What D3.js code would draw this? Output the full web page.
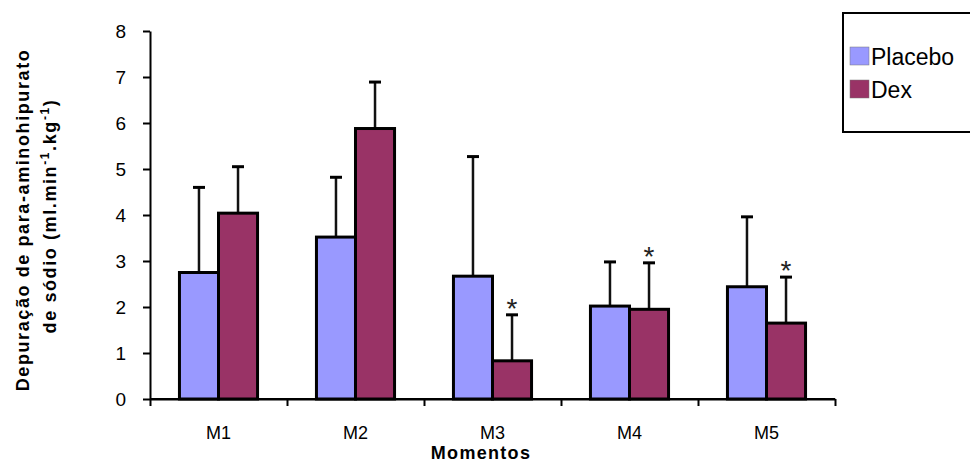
<!DOCTYPE html>
<html>
<head>
<meta charset="utf-8">
<title>Depuração de para-aminohipurato de sódio</title>
<script src="https://cdnjs.cloudflare.com/ajax/libs/d3/7.8.5/d3.min.js"></script>
<style>
body { margin: 0; background: #fff; }
svg { display: block; font-family: "Liberation Sans", Arial, sans-serif; }
.axis path, .axis line { stroke: #000; stroke-width: 2px; }
.axis text { fill: #000; }
</style>
</head>
<body>
<script>
// values
var momentos = ["M1", "M2", "M3", "M4", "M5"];
var grupos = ["Placebo", "Dex"];
var placebo = [2.75, 3.52, 2.67, 2.02, 2.44];
var placeboSd = [1.85, 1.30, 2.60, 0.96, 1.52];
var dex = [4.04, 5.88, 0.83, 1.95, 1.65];
var dexSd = [1.01, 1.01, 1.00, 1.01, 1.00];
var signif = [false, false, true, true, true]; // asterisk over Dex
var yTicks = [0, 1, 2, 3, 4, 5, 6, 7, 8];
var cores = ["#9999FF", "#993366"];

var width = 970, height = 462;
var mLeft = 150, mRight = 835, mTop = 31, mBottom = 399;

var svg = d3.select("body").append("svg")
    .attr("width", width)
    .attr("height", height);

var y = d3.scaleLinear().domain([0, 8]).range([mBottom, mTop]);
var x0 = d3.scaleBand().domain(momentos).range([mLeft, mRight])
    .paddingInner(0.43).paddingOuter(0.215);
var x1 = d3.scaleBand().domain(grupos).range([0, x0.bandwidth()]);
var xEdge = d3.scaleLinear().domain([0, momentos.length]).range([mLeft, mRight]);
var color = d3.scaleOrdinal().domain(grupos).range(cores);

var rows = momentos.map(function(m, i) {
  return [
    { m: m, g: "Placebo", v: placebo[i], sd: placeboSd[i], star: false },
    { m: m, g: "Dex", v: dex[i], sd: dexSd[i], star: signif[i] }
  ];
});

// y axis
svg.append("g")
    .attr("class", "axis")
    .attr("transform", "translate(" + mLeft + ",0)")
    .call(d3.axisLeft(y).tickValues(yTicks).tickSize(7).tickSizeOuter(0).tickPadding(17))
    .selectAll("text")
    .style("font-size", "19px");

// x axis : ticks at category boundaries
svg.append("g")
    .attr("class", "axis")
    .attr("transform", "translate(0," + mBottom + ")")
    .call(d3.axisBottom(xEdge).tickValues(d3.range(momentos.length + 1)).tickSize(7).tickSizeOuter(0).tickFormat(""));

svg.append("g")
    .attr("transform", "translate(0," + mBottom + ")")
    .call(d3.axisBottom(x0).tickSize(0).tickPadding(27))
    .call(function(g) { g.select(".domain").remove(); })
    .selectAll("text")
    .attr("fill", "#000")
    .style("font-size", "18px");

// bars
var grp = svg.selectAll(".grp")
    .data(rows)
  .enter().append("g")
    .attr("class", "grp")
    .attr("transform", function(d) { return "translate(" + x0(d[0].m) + ",0)"; });

var item = grp.selectAll(".item")
    .data(function(d) { return d; })
  .enter().append("g")
    .attr("class", "item");

// error bars (upper only)
item.append("line")
    .attr("x1", function(d) { return x1(d.g) + x1.bandwidth() / 2; })
    .attr("x2", function(d) { return x1(d.g) + x1.bandwidth() / 2; })
    .attr("y1", function(d) { return y(d.v); })
    .attr("y2", function(d) { return y(d.v + d.sd); })
    .attr("stroke", "#111")
    .attr("stroke-width", 2.5);

item.append("line")
    .attr("x1", function(d) { return x1(d.g) + x1.bandwidth() / 2 - 6; })
    .attr("x2", function(d) { return x1(d.g) + x1.bandwidth() / 2 + 6; })
    .attr("y1", function(d) { return y(d.v + d.sd); })
    .attr("y2", function(d) { return y(d.v + d.sd); })
    .attr("stroke", "#000")
    .attr("stroke-width", 3);

item.append("rect")
    .attr("x", function(d) { return x1(d.g); })
    .attr("y", function(d) { return y(d.v); })
    .attr("width", x1.bandwidth())
    .attr("height", function(d) { return y(0) - y(d.v); })
    .attr("fill", function(d) { return color(d.g); })
    .attr("stroke", "#000")
    .attr("stroke-width", 3);

item.filter(function(d) { return d.star; })
  .append("text")
    .attr("x", function(d) { return x1(d.g) + x1.bandwidth() / 2; })
    .attr("y", function(d) { return y(d.v + d.sd) + 3; })
    .attr("text-anchor", "middle")
    .style("font-size", "28px")
    .attr("fill", "#222")
    .text("*");

// redraw baseline over bars
svg.append("line")
    .attr("x1", mLeft).attr("x2", mRight)
    .attr("y1", mBottom).attr("y2", mBottom)
    .attr("stroke", "#000").attr("stroke-width", 2);

// axis titles
svg.append("text")
    .attr("x", 481)
    .attr("y", 459)
    .attr("text-anchor", "middle")
    .style("font-size", "18px")
    .style("font-weight", "bold")
    .style("letter-spacing", "1.3px")
    .text("Momentos");

var yTitle = svg.append("text")
    .attr("transform", "translate(29,220)rotate(-90)")
    .attr("text-anchor", "middle")
    .style("font-size", "18px")
    .style("font-weight", "bold")
    .style("letter-spacing", "1.6px");
yTitle.append("tspan").attr("x", 0).attr("y", 0).text("Depuração de para-aminohipurato");
var l2 = yTitle.append("tspan").attr("x", 4).attr("y", 27);
l2.text("de sódio (ml.min");
yTitle.append("tspan").attr("dy", -7).style("font-size", "12px").text("-1");
yTitle.append("tspan").attr("dy", 7).text(".kg");
yTitle.append("tspan").attr("dy", -7).style("font-size", "12px").text("-1");
yTitle.append("tspan").attr("dy", 7).text(")");

// legend
var legend = svg.append("g");
legend.append("rect")
    .attr("x", 843).attr("y", 13)
    .attr("width", 140).attr("height", 119)
    .attr("fill", "#fff")
    .attr("stroke", "#000")
    .attr("stroke-width", 2);

var li = legend.selectAll(".li")
    .data(grupos)
  .enter().append("g")
    .attr("transform", function(d, i) { return "translate(850," + (47 + i * 33) + ")"; });
li.append("rect")
    .attr("width", 19).attr("height", 18)
    .attr("fill", function(d) { return color(d); })
    .attr("stroke", "#777").attr("stroke-width", 0.5);
li.append("text")
    .attr("x", 21).attr("y", 18)
    .style("font-size", "23px")
    .attr("fill", "#000")
    .text(function(d) { return d; });
</script>
</body>
</html>
